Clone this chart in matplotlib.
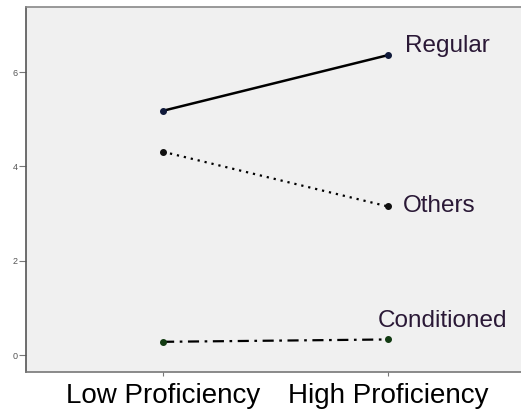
import matplotlib.pyplot as plt

# data
levels = ["Low Proficiency", "High Proficiency"]
regular = [5.18, 6.36]
others = [4.31, 3.15]
conditioned = [0.28, 0.33]
yticks = [0, 2, 4, 6]

plt.rcParams['font.family'] = ['Liberation Sans', 'DejaVu Sans']

fig = plt.figure(figsize=(5.21, 4.13), dpi=100)
ax = fig.add_axes([0.05, 0.0993, 0.95, 0.8837])
ax.set_facecolor('#f0f0f0')

x = range(len(levels))
ax.plot(x, regular, color='black', linewidth=1.8, linestyle='-',
        marker='o', markersize=4, markerfacecolor='#101a3a',
        markeredgecolor='#101a3a')
ax.plot(x, others, color='black', linewidth=1.6, linestyle=(0, (1, 2.2)),
        marker='o', markersize=4, markerfacecolor='#101010',
        markeredgecolor='#101010')
ax.plot(x, conditioned, color='black', linewidth=1.6,
        linestyle=(0, (5, 2.5, 1.2, 2.5)),
        marker='o', markersize=4, markerfacecolor='#123a12',
        markeredgecolor='#123a12')

label_color = '#2a1836'
ax.text(1.076, regular[1] + 0.19, 'Regular', fontsize=17.5,
        color=label_color, va='center', ha='left')
ax.text(1.067, others[1], 'Others', fontsize=17.5,
        color=label_color, va='center', ha='left')
ax.text(0.956, conditioned[1] + 0.39, 'Conditioned', fontsize=17.5,
        color=label_color, va='center', ha='left')

ax.set_xlim(-0.609, 1.591)
ax.set_ylim(-0.36, 7.38)
ax.set_xticks(list(x))
ax.set_xticklabels(levels, fontsize=20, color='black')
ax.set_yticks(yticks)
ax.set_yticklabels([str(v) for v in yticks], fontsize=6.5, color='#555555')
ax.tick_params(axis='x', length=3, width=0.8, color='#777777', pad=5)
ax.tick_params(axis='y', length=5, width=0.8, color='#777777', pad=1)

ax.spines['right'].set_visible(False)
ax.spines['left'].set_color('#555555')
ax.spines['bottom'].set_color('#777777')
ax.spines['top'].set_color('#888888')
for s in ['left', 'bottom', 'top']:
    ax.spines[s].set_linewidth(1.2)

fig.savefig('out.png', dpi=100)
